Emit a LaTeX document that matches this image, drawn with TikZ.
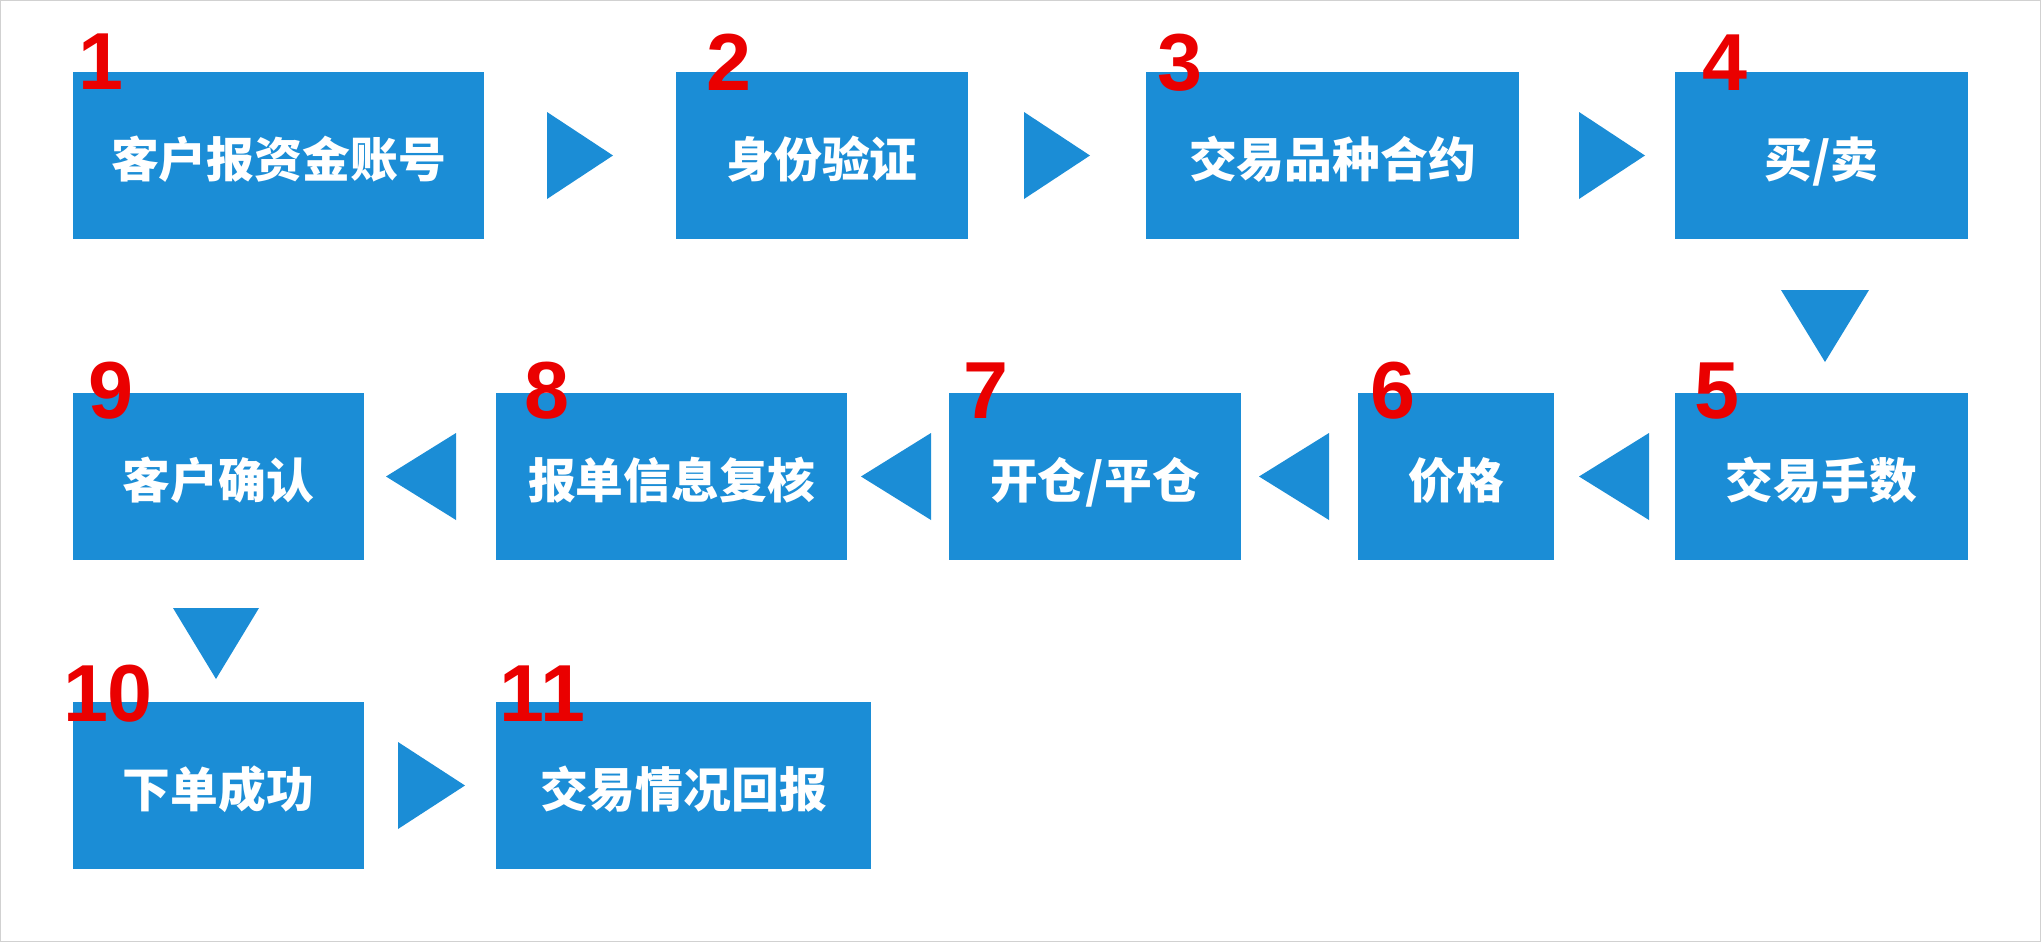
\documentclass[tikz,border=0pt]{standalone}
\usepackage{fontspec}
\setmainfont{Liberation Sans}
\newfontfamily\cjk{Noto Sans CJK SC}
\definecolor{stepblue}{RGB}{27,141,214}
\definecolor{numred}{RGB}{234,0,0}

\begin{document}
\begin{tikzpicture}[x=0.01cm, y=-0.01cm,
    stepbox/.style={fill=stepblue, minimum height=1.66cm, inner sep=0pt, text=white,
      text height=14pt, text depth=1.6pt,
      font=\cjk\bfseries\fontsize{13.6}{16}\selectfont},
    numlbl/.style={anchor=base, text=numred, inner sep=0pt,
      font=\bfseries\fontsize{23}{26}\selectfont},
    tri/.style={fill=stepblue}]
  \useasboundingbox (0,0) rectangle (2041,942);
  \draw[black!18, line width=0.3pt] (0.5,0.5) rectangle (2040.5,941.5);

  % first row
  \node[stepbox, minimum width=4.11cm] (b1) at (278.5,155.5) {客户报资金账号};
  \node[stepbox, minimum width=2.92cm] (b2) at (822,155.5) {身份验证};
  \node[stepbox, minimum width=3.73cm] (b3) at (1332.5,155.5) {交易品种合约};
  \node[stepbox, minimum width=2.93cm] (b4) at (1821.5,155.5) {买/卖};
  % second row
  \node[stepbox, minimum width=2.93cm] (b5) at (1821.5,476.5) {交易手数};
  \node[stepbox, minimum width=1.96cm] (b6) at (1456,476.5) {价格};
  \node[stepbox, minimum width=2.92cm] (b7) at (1095,476.5) {开仓/平仓};
  \node[stepbox, minimum width=3.51cm] (b8) at (671.5,476.5) {报单信息复核};
  \node[stepbox, minimum width=2.91cm] (b9) at (218.5,476.5) {客户确认};
  % third row
  \node[stepbox, minimum width=2.91cm] (b10) at (218.5,785.5) {下单成功};
  \node[stepbox, minimum width=3.75cm] (b11) at (683.5,785.5) {交易情况回报};

  % step numbers
  \node[numlbl] (n1) at (101,89) {1};
  \node[numlbl] (n2) at (728.5,90) {2};
  \node[numlbl] (n3) at (1180,90) {3};
  \node[numlbl] (n4) at (1724.5,90) {4};
  \node[numlbl] (n5) at (1717,418) {5};
  \node[numlbl] (n6) at (1392.5,418) {6};
  \node[numlbl] (n7) at (985.5,418) {7};
  \node[numlbl] (n8) at (547,418) {8};
  \node[numlbl] (n9) at (110.5,418) {9};
  \node[numlbl] (n10) at (108,721) {10};
  \node[numlbl] (n11) at (542.5,721) {11};

  % arrows
  \fill[tri] (547,112) -- (613,155.5) -- (547,199) -- cycle;
  \fill[tri] (1024,112) -- (1090,155.5) -- (1024,199) -- cycle;
  \fill[tri] (1579,112) -- (1645,155.5) -- (1579,199) -- cycle;
  \fill[tri] (1781,290) -- (1869,290) -- (1825,362) -- cycle;
  \fill[tri] (1649,433) -- (1579,476.5) -- (1649,520) -- cycle;
  \fill[tri] (1329,433) -- (1259,476.5) -- (1329,520) -- cycle;
  \fill[tri] (931,433) -- (861,476.5) -- (931,520) -- cycle;
  \fill[tri] (456,433) -- (386,476.5) -- (456,520) -- cycle;
  \fill[tri] (173,608) -- (259,608) -- (216,679) -- cycle;
  \fill[tri] (398,742) -- (465,785.5) -- (398,829) -- cycle;
\end{tikzpicture}
\end{document}
